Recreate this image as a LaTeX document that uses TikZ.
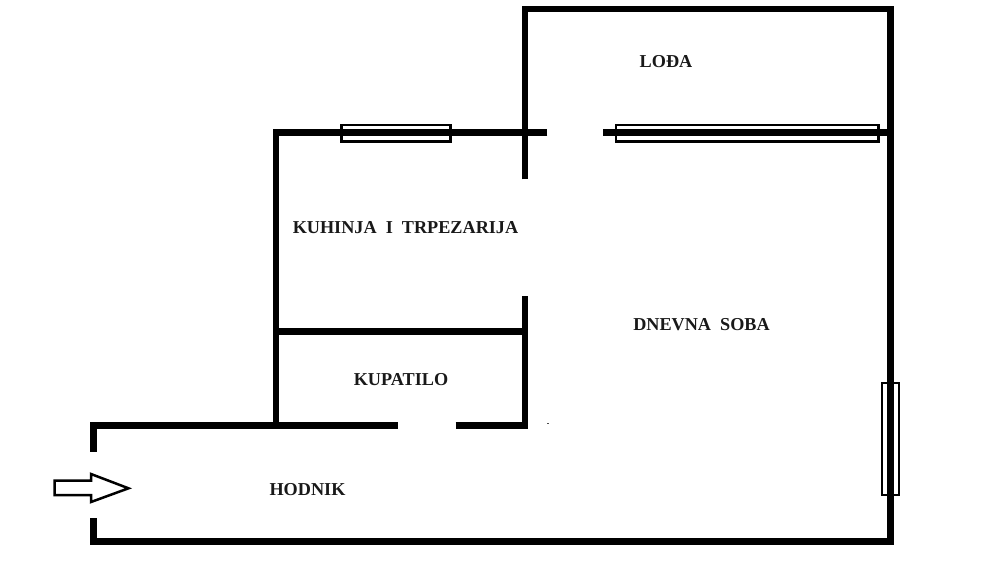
\documentclass[tikz,border=0pt]{standalone}
\usepackage{fontspec}
\setmainfont{Liberation Serif}
\tikzset{
  wall/.style={line width=6.7pt,line cap=butt,line join=miter,black},
  win/.style={line width=2.4pt,draw=black},
  arrowshape/.style={line width=2.5pt,draw=black,fill=white,line join=miter},
  room/.style={font=\fontsize{18.2}{20}\selectfont\bfseries,text=black!90,inner sep=0pt,anchor=center}
}
\begin{document}
\begin{tikzpicture}[x=1pt,y=-1pt]
\useasboundingbox (0,0) rectangle (1000,570);
% walls
\draw[wall] (547.3,132.6) -- (276,132.6) -- (276,425.5);
\draw[wall] (525,179.3) -- (525,9) -- (890.7,9) -- (890.7,541.7) -- (93.8,541.7) -- (93.8,518);
\draw[wall] (603.3,132.6) -- (890.7,132.6);
\draw[wall] (93.8,451.7) -- (93.8,425.5) -- (397.7,425.5);
\draw[wall] (455.7,425.5) -- (525,425.5) -- (525,295.7);
\draw[wall] (276,331.7) -- (525,331.7);
% windows
\draw[win] (341.3,124.7) rectangle (450.3,141.3);
\draw[win] (615.7,124.7) rectangle (878.3,141.3);
\draw[win] (882,382.7) rectangle (899,495);
% entrance arrow
\draw[arrowshape] (54.5,480.5) -- (91,480.5) -- (91,474) -- (128.5,488.3) -- (91,502) -- (91,495) -- (54.5,495) -- cycle;
% speck
\fill[black!70] (547.4,422.9) rectangle (548.6,423.9);
% labels
\node[room] (loda) at (666,62) {LOĐA};
\node[room] (kuhinja) at (405.5,228) {KUHINJA\ \ I\ \ TRPEZARIJA};
\node[room] (dnevna) at (701.5,325) {DNEVNA\ \ SOBA};
\node[room] (kupatilo) at (401,380) {KUPATILO};
\node[room] (hodnik) at (307.5,489.5) {HODNIK};
\end{tikzpicture}
\end{document}
